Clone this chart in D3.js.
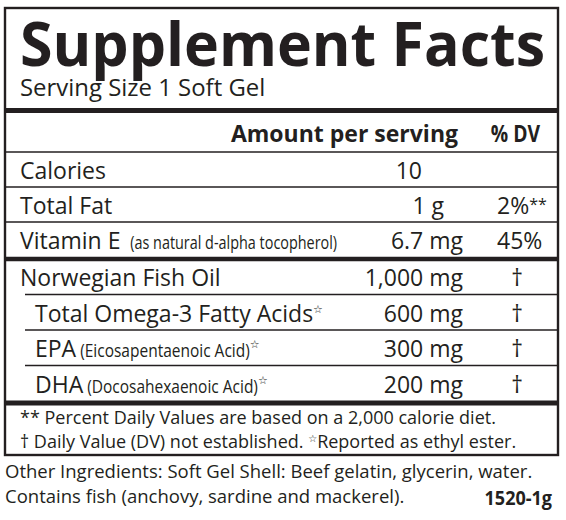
<!DOCTYPE html>
<html>
<head>
<meta charset="utf-8">
<script src="https://cdn.jsdelivr.net/npm/d3@7"></script>
<style>
  body { margin: 0; background: #fff; }
  text { font-family: "Open Sans", "Noto Sans", sans-serif; fill: #231f20; }
</style>
</head>
<body>
<svg id="label" width="566" height="520"></svg>
<script>
// Label content
const title = 'Supplement Facts'
const servingSize = 'Serving Size 1 Soft Gel'
const headers = ['Amount per serving', '% DV']

const nutrients = ['Calories', 'Total Fat', 'Vitamin E']
const nutrientNotes = ['', '', '(as natural d-alpha tocopherol)']
const nutrientAmounts = ['10', '1 g', '6.7 mg']
const nutrientDV = ['', '2%', '45%']
const nutrientDVMarks = ['', '**', '']

const oils = ['Norwegian Fish Oil', 'Total Omega-3 Fatty Acids', 'EPA', 'DHA']
const oilNotes = ['', '', '(Eicosapentaenoic Acid)', '(Docosahexaenoic Acid)']
const oilStars = [false, true, true, true]
const oilIndent = [false, true, true, true]
const oilAmounts = ['1,000 mg', '600 mg', '300 mg', '200 mg']
const oilDV = ['†', '†', '†', '†']

const footnotes = ['** Percent Daily Values are based on a 2,000 calorie diet.',
                   '† Daily Value (DV) not established.  ']
const starNote = 'Reported as ethyl ester.'
const otherIngredients = ['Other Ingredients: Soft Gel Shell: Beef gelatin, glycerin, water.',
                          'Contains fish (anchovy, sardine and mackerel).']
const lotCode = '1520-1g'

// Layout
const width = 566, height = 520
const boxLeft = 5, boxRight = 558, boxTop = 8, boxBottom = 455
const textLeft = 20, indentLeft = 35
const ink = '#231f20'
const bodySize = '23px', noteSize = '18px'

const svg = d3.select('#label')
svg.append('rect').attr('width', width).attr('height', height).attr('fill', '#fff')

// horizontal columns
const xCol = d3.scaleOrdinal()
    .domain(['label', 'indent', 'amount', 'dv', 'dagger'])
    .range([textLeft, indentLeft, 463, 497, 517])

// vertical rows: top block and fish oil block
const yTop = d3.scaleBand()
    .domain(nutrients)
    .range([152, 257])
const yOil = d3.scaleBand()
    .domain(oils)
    .range([259, 401])

// narrow a text (or tspan) by a factor, Myriad is a bit tighter than Open Sans
function squeezeText(sel, f){
    sel.each(function(){
        const len = this.getComputedTextLength()
        if (len > 0){
            d3.select(this).attr('textLength', len * f).attr('lengthAdjust', 'spacingAndGlyphs')
        }
    })
}

function hline(y, x1, x2, w){
    svg.append('line')
        .attr('x1', x1).attr('x2', x2)
        .attr('y1', y).attr('y2', y)
        .attr('stroke', ink)
        .attr('stroke-width', w)
}

// Outer box
svg.append('rect')
    .attr('x', boxLeft).attr('y', boxTop)
    .attr('width', boxRight - boxLeft).attr('height', boxBottom - boxTop)
    .attr('fill', 'none')
    .attr('stroke', ink)
    .attr('stroke-width', 2.4)

// Title
svg.append('text')
    .attr('x', textLeft).attr('y', 66)
    .style('font-size', '60px')
    .style('font-weight', 700)
    .attr('textLength', 525)
    .attr('lengthAdjust', 'spacingAndGlyphs')
    .text(title)

svg.append('text')
    .attr('x', textLeft).attr('y', 96)
    .style('font-size', '23px')
    .text(servingSize)
    .call(squeezeText, 1.04)

hline(110.5, boxLeft, boxRight, 5)

// Column headers
svg.selectAll('text.header')
    .data(headers)
    .enter()
    .append('text')
    .classed('header', true)
    .attr('x', (d, i) => i == 0 ? 458 : 540)
    .attr('y', 142)
    .attr('text-anchor', 'end')
    .style('font-size', '23px')
    .style('font-weight', 700)
    .text(d => d)
    .each(function(d, i){ d3.select(this).call(squeezeText, i == 0 ? 1.0 : 0.84) })

hline(152, boxLeft, boxRight, 1.6)

// Nutrient rows
const topRows = svg.selectAll('g.top-row')
    .data(nutrients)
    .enter()
    .append('g')
    .classed('top-row', true)
    .attr('transform', d => 'translate(0,' + (yTop(d) + 27) + ')')

const topLabels = topRows.append('text')
    .attr('x', xCol('label'))
    .style('font-size', bodySize)

topLabels.append('tspan').text(d => d)
topLabels.append('tspan')
    .attr('dx', 6)
    .style('font-size', noteSize)
    .text((d, i) => nutrientNotes[i] ? ' ' + nutrientNotes[i] : '')
    .call(squeezeText, 0.8)

topRows.append('text')
    .attr('x', (d, i) => i == 0 ? 422 : (i == 1 ? 444 : xCol('amount')))
    .attr('text-anchor', 'end')
    .style('font-size', bodySize)
    .text((d, i) => nutrientAmounts[i])

const dvText = topRows.append('text')
    .attr('x', xCol('dv'))
    .style('font-size', bodySize)
dvText.append('tspan').text((d, i) => nutrientDV[i])
dvText.append('tspan')
    .attr('dy', -4)
    .style('font-size', '16px')
    .text((d, i) => nutrientDVMarks[i])

nutrients.slice(0, -1).forEach(function(d){
    hline(yTop(d) + yTop.bandwidth(), boxLeft, boxRight, 1.6)
})

hline(259, boxLeft, boxRight, 4.5)

// Fish oil rows
const oilRows = svg.selectAll('g.oil-row')
    .data(oils)
    .enter()
    .append('g')
    .classed('oil-row', true)
    .attr('transform', d => 'translate(0,' + (yOil(d) + 27) + ')')

const oilLabels = oilRows.append('text')
    .attr('x', (d, i) => oilIndent[i] ? xCol('indent') : xCol('label'))
    .style('font-size', bodySize)

oilLabels.append('tspan').text(d => d)
oilLabels.append('tspan')
    .style('font-size', noteSize)
    .text((d, i) => oilNotes[i] ? ' ' + oilNotes[i] : '')
    .call(squeezeText, 0.86)
oilLabels.append('tspan')
    .attr('dy', -9)
    .style('font-size', '11px')
    .style('font-family', 'DejaVu Sans')
    .text((d, i) => oilStars[i] ? '☆' : '')

oilRows.append('text')
    .attr('x', xCol('amount'))
    .attr('text-anchor', 'end')
    .style('font-size', bodySize)
    .text((d, i) => oilAmounts[i])

oilRows.append('text')
    .attr('x', xCol('dagger'))
    .attr('text-anchor', 'middle')
    .style('font-size', bodySize)
    .text((d, i) => oilDV[i])

oils.slice(0, -1).forEach(function(d){
    hline(yOil(d) + yOil.bandwidth(), 25, boxRight, 1.6)
})

hline(403, boxLeft, boxRight, 5)

// Footnotes inside the box
const notes = svg.selectAll('text.footnote')
    .data(footnotes)
    .enter()
    .append('text')
    .classed('footnote', true)
    .attr('x', textLeft)
    .attr('y', (d, i) => 424 + i * 24)
    .style('font-size', '18px')

notes.append('tspan').text(d => d)
notes.append('tspan')
    .attr('dy', -6)
    .style('font-size', '10px')
    .style('font-family', 'DejaVu Sans')
    .text((d, i) => i == 1 ? '☆' : '')
notes.append('tspan')
    .attr('dy', 6)
    .text((d, i) => i == 1 ? starNote : '')

// Text below the box
svg.selectAll('text.other')
    .data(otherIngredients)
    .enter()
    .append('text')
    .classed('other', true)
    .attr('x', boxLeft)
    .attr('y', (d, i) => 478 + i * 25)
    .style('font-size', '18.5px')
    .text(d => d)

svg.append('text')
    .attr('x', 552).attr('y', 505)
    .attr('text-anchor', 'end')
    .style('font-size', '20px')
    .style('font-weight', 700)
    .text(lotCode)
    .call(squeezeText, 0.9)
</script>
</body>
</html>
